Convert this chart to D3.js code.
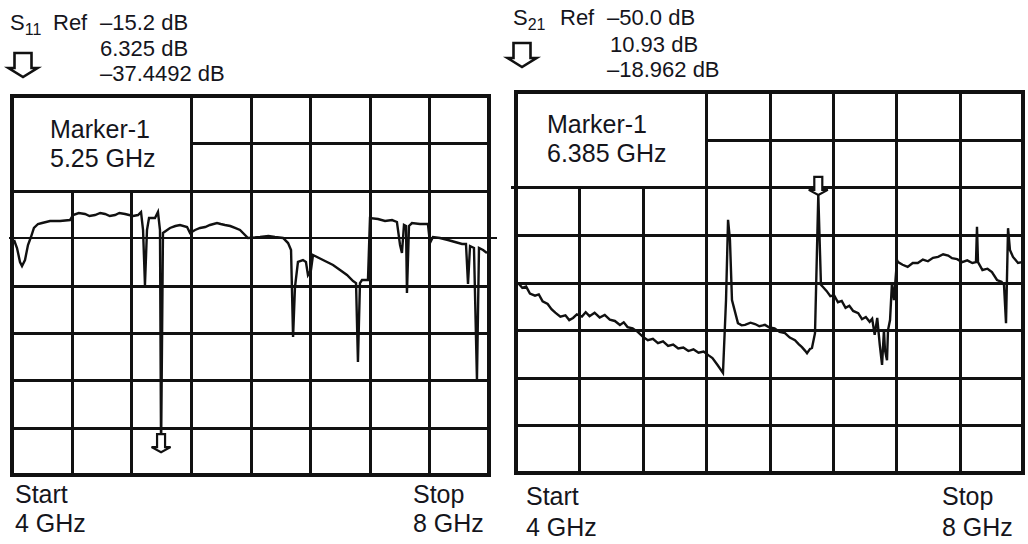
<!DOCTYPE html>
<html>
<head>
<meta charset="utf-8">
<script src="https://cdn.jsdelivr.net/npm/d3@7"></script>
<style>
  html, body { margin: 0; background: #fff; }
  svg { display: block; }
  text { font-family: "Liberation Sans", Arial, Helvetica, sans-serif; fill: #15151c; }
</style>
</head>
<body>
<svg id="chart" width="1028" height="544"></svg>
<script>
// ---- sweep settings -------------------------------------------------------
const startGHz = 4;
const stopGHz = 8;
const divisions = 8;

// ---- S11 readout: reference level, dB per division, marker ---------------
const s11Ref = -15.2;
const s11DbPerDiv = 6.325;
const s11Marker = [5.25, -37.4492];

// S11 trace, [GHz, dB]
const s11Trace = [
  [4.017, -9.13], [4.042, -10.19], [4.067, -12.06], [4.084, -12.60], [4.109, -11.80],
  [4.134, -9.79], [4.159, -8.73], [4.184, -7.52], [4.218, -6.99], [4.252, -6.86],
  [4.319, -6.59], [4.403, -6.59], [4.486, -6.46], [4.512, -5.79], [4.560, -5.52],
  [4.612, -5.65], [4.650, -5.92], [4.696, -5.79], [4.740, -5.52], [4.780, -5.65],
  [4.820, -5.92], [4.864, -5.79], [4.900, -5.52], [4.948, -5.65], [5.015, -5.92],
  [5.057, -5.79], [5.082, -5.39], [5.099, -7.79], [5.115, -15.13], [5.132, -7.79],
  [5.149, -6.19], [5.199, -6.19], [5.224, -5.39], [5.241, -7.79], s11Marker,
  [5.266, -8.19], [5.325, -7.52], [5.370, -7.26], [5.409, -7.12], [5.468, -7.39],
  [5.493, -8.19], [5.535, -7.79], [5.577, -7.52], [5.620, -7.39], [5.660, -7.12],
  [5.719, -6.86], [5.750, -6.99], [5.786, -7.12], [5.830, -7.26], [5.870, -7.52],
  [5.912, -7.79], [5.979, -8.86], [6.080, -8.73], [6.150, -8.60], [6.205, -8.73],
  [6.273, -8.86], [6.315, -9.53], [6.340, -10.46], [6.357, -22.08], [6.373, -15.40],
  [6.398, -12.06], [6.440, -11.80], [6.465, -12.06], [6.482, -13.80], [6.507, -13.13],
  [6.524, -11.13], [6.608, -11.80], [6.692, -12.46], [6.751, -13.13], [6.809, -13.80],
  [6.860, -14.60], [6.885, -14.87], [6.901, -25.41], [6.918, -14.87], [6.935, -14.47],
  [6.985, -14.47], [7.002, -6.19], [7.069, -6.32], [7.128, -6.59], [7.187, -6.46],
  [7.228, -6.72], [7.254, -9.79], [7.270, -10.86], [7.287, -7.12], [7.304, -7.26],
  [7.312, -16.20], [7.329, -7.26], [7.354, -6.86], [7.421, -6.99], [7.488, -6.99],
  [7.505, -9.53], [7.530, -8.73], [7.589, -8.86], [7.656, -9.13], [7.715, -9.39],
  [7.774, -9.66], [7.807, -9.66], [7.824, -15.00], [7.841, -9.93], [7.874, -10.19],
  [7.899, -27.82], [7.916, -10.19], [7.950, -10.46], [7.983, -10.86]
];

// ---- S21 readout ----------------------------------------------------------
const s21Ref = -50.0;
const s21DbPerDiv = 10.93;
const s21Marker = [6.385, -18.962];

// S21 trace, [GHz, dB]
const s21Trace = [
  [4.016, -39.2], [4.05, -40.3], [4.08, -40.0], [4.11, -41.6], [4.15, -42.1],
  [4.18, -41.8], [4.21, -43.4], [4.25, -44.0], [4.28, -45.2], [4.31, -46.0],
  [4.35, -46.9], [4.39, -46.6], [4.42, -47.7], [4.45, -47.2], [4.48, -46.4],
  [4.52, -46.9], [4.55, -45.9], [4.58, -46.8], [4.62, -46.0], [4.66, -47.1],
  [4.70, -46.5], [4.74, -47.6], [4.78, -47.9], [4.82, -48.8], [4.85, -48.2],
  [4.88, -49.3], [4.92, -49.6], [4.96, -50.4], [5.00, -51.5], [5.04, -52.3],
  [5.08, -52.0], [5.12, -53.0], [5.16, -52.6], [5.20, -53.6], [5.24, -53.3],
  [5.28, -54.2], [5.32, -54.0], [5.36, -54.8], [5.40, -54.4], [5.44, -55.2],
  [5.48, -54.9], [5.52, -55.8], [5.55, -56.4], [5.59, -58.0], [5.633, -59.8],
  [5.657, -43.1], [5.673, -24.7], [5.688, -29.3], [5.704, -43.1], [5.751, -48.4],
  [5.78, -48.9], [5.807, -48.8], [5.85, -48.3], [5.886, -48.6], [5.92, -49.1],
  [5.964, -48.8], [6.00, -49.4], [6.04, -49.6], [6.08, -50.4], [6.122, -50.7],
  [6.16, -51.7], [6.201, -52.3], [6.23, -53.2], [6.256, -53.9], [6.28, -54.7],
  [6.296, -55.3], [6.32, -54.3], [6.335, -54.1], [6.359, -50.7], s21Marker,
  [6.406, -39.6], [6.422, -40.1], [6.45, -41.0], [6.48, -42.2], [6.51, -42.0],
  [6.54, -43.6], [6.57, -43.3], [6.60, -44.9], [6.63, -44.4], [6.66, -45.6],
  [6.70, -46.1], [6.73, -47.5], [6.76, -47.0], [6.79, -48.1], [6.81, -47.4],
  [6.83, -51.1], [6.85, -47.2], [6.87, -53.4], [6.888, -58.0], [6.903, -50.0],
  [6.911, -54.6], [6.927, -56.9], [6.935, -50.0], [6.951, -47.7], [6.966, -39.2],
  [6.982, -43.1], [7.006, -33.9], [7.014, -34.4], [7.05, -35.0], [7.09, -35.5],
  [7.13, -34.6], [7.17, -34.6], [7.21, -33.8], [7.25, -34.2], [7.29, -33.4],
  [7.33, -33.2], [7.37, -32.6], [7.41, -32.9], [7.44, -33.5], [7.48, -33.7],
  [7.52, -34.4], [7.56, -34.0], [7.60, -34.6], [7.629, -34.4], [7.637, -26.3],
  [7.645, -34.4], [7.68, -36.2], [7.72, -35.9], [7.755, -36.7], [7.795, -38.5],
  [7.83, -38.9], [7.850, -39.6], [7.866, -48.4], [7.882, -26.6], [7.897, -31.6],
  [7.921, -33.2], [7.961, -34.6], [7.992, -34.4]
];

// ---- layout ---------------------------------------------------------------
const panels = [
  {
    name: "11", ref: s11Ref, perDiv: s11DbPerDiv, refRow: 4, marker: s11Marker, trace: s11Trace,
    box: { x0: 12, x1: 489, y0: 96, y1: 475 },
    head: { sx: 10, refX: 53, valX: 100, indent: 0, lines: [30, 56, 81], arrow: [23, 77] },
    markerText: { x: 50, y: [138, 167] },
    foot: { startX: 15, stopX: 413, y: [503, 532] },
    extendRow: { row: 3, left: 3, right: 8, width: 2 }
  },
  {
    name: "21", ref: s21Ref, perDiv: s21DbPerDiv, refRow: 5, marker: s21Marker, trace: s21Trace,
    box: { x0: 516, x1: 1023, y0: 92, y1: 473 },
    head: { sx: 513, refX: 560, valX: 607, indent: 3, lines: [25, 52, 77], arrow: [522, 67] },
    markerText: { x: 547, y: [133, 162] },
    foot: { startX: 526, stopX: 942, y: [505, 536] },
    extendRow: { row: 2, left: 5, right: 0, width: 3 }
  }
];

const ink = "#111";
const svg = d3.select("#chart");

const dash = s => s.replace("-", "\u2013");
const fmtRef = v => dash(v.toFixed(1)) + " dB";
const fmtVal = v => dash(String(v)) + " dB";
// centre of an odd-width line on the pixel grid
const snap = v => Math.round(v) + 0.5;

// hollow down arrow with its tip at (0,0)
function arrowPath(w, h, stemW, headH) {
  const hw = w / 2, sw = stemW / 2;
  return d3.line()([
    [-sw, -h], [sw, -h], [sw, -headH], [hw, -headH], [0, 0], [-hw, -headH], [-sw, -headH]
  ]) + "Z";
}

panels.forEach((p, pi) => {
  const g = svg.append("g");
  const { x0, x1, y0, y1 } = p.box;

  const topDb = p.ref + p.refRow * p.perDiv;
  const botDb = topDb - divisions * p.perDiv;

  const x = d3.scaleLinear().domain([startGHz, stopGHz]).range([x0, x1]);
  const y = d3.scaleLinear().domain([botDb, topDb]).range([y1, y0]);

  const freqTicks = d3.range(divisions + 1).map(i => startGHz + i * (stopGHz - startGHz) / divisions);
  const dbTicks = d3.range(divisions + 1).map(i => topDb - i * p.perDiv);

  // annotation box occupies the first 3 columns x 2 rows
  const boxCols = 3, boxRows = 2;

  // vertical graticule
  freqTicks.forEach((f, i) => {
    if (i === 0 || i === divisions) return;
    const yStart = i < boxCols ? snap(y(dbTicks[boxRows])) : y0;
    g.append("line")
      .attr("x1", snap(x(f))).attr("x2", snap(x(f)))
      .attr("y1", yStart).attr("y2", y1)
      .attr("stroke", ink).attr("stroke-width", 3);
  });

  // horizontal graticule
  dbTicks.forEach((d, i) => {
    if (i === 0 || i === divisions) return;
    const ext = p.extendRow.row === i ? p.extendRow : null;
    const xStart = i < boxRows ? snap(x(freqTicks[boxCols])) : x0 - (ext ? ext.left : 0);
    const xEnd = x1 + (ext ? ext.right : 0);
    const yy = ext && ext.width % 2 === 0 ? Math.round(y(d)) : snap(y(d));
    g.append("line")
      .attr("x1", xStart).attr("x2", xEnd)
      .attr("y1", yy).attr("y2", yy)
      .attr("stroke", ink).attr("stroke-width", ext ? ext.width : 3);
  });

  // trace
  const clipId = "clip" + pi;
  svg.append("clipPath").attr("id", clipId)
    .append("rect").attr("x", x0).attr("y", y0).attr("width", x1 - x0).attr("height", y1 - y0);

  g.append("path")
    .datum(p.trace)
    .attr("clip-path", `url(#${clipId})`)
    .attr("fill", "none")
    .attr("stroke", ink)
    .attr("stroke-width", 2.4)
    .attr("stroke-linejoin", "miter")
    .attr("d", d3.line().x(d => x(d[0])).y(d => y(d[1])));

  // outer frame
  g.append("rect")
    .attr("x", x0).attr("y", y0).attr("width", x1 - x0).attr("height", y1 - y0)
    .attr("fill", "none").attr("stroke", ink).attr("stroke-width", 4);

  // marker arrow pointing at the marker reading
  g.append("path")
    .attr("transform", `translate(${x(p.marker[0])},${y(p.marker[1])})`)
    .attr("d", arrowPath(19, 18, 8, 5))
    .attr("fill", "#fff").attr("stroke", ink).attr("stroke-width", 2.2);

  // marker annotation
  g.append("text").attr("x", p.markerText.x).attr("y", p.markerText.y[0])
    .attr("font-size", 25).text("Marker-1");
  g.append("text").attr("x", p.markerText.x).attr("y", p.markerText.y[1])
    .attr("font-size", 25).text(p.marker[0] + " GHz");

  // readout header
  const h = p.head;
  const sLabel = g.append("text").attr("x", h.sx).attr("y", h.lines[0]).attr("font-size", 22);
  sLabel.append("tspan").text("S");
  sLabel.append("tspan").attr("font-size", 16).attr("dy", 5).text(p.name);
  g.append("text").attr("x", h.refX).attr("y", h.lines[0]).attr("font-size", 22).text("Ref");
  const readout = [fmtRef(p.ref), fmtVal(p.perDiv), fmtVal(p.marker[1])];
  readout.forEach((t, i) => {
    g.append("text")
      .attr("x", h.valX + (t.startsWith("\u2013") ? 0 : h.indent))
      .attr("y", h.lines[i]).attr("font-size", 22).text(t);
  });
  g.append("path")
    .attr("transform", `translate(${h.arrow[0]},${h.arrow[1]})`)
    .attr("d", arrowPath(29, 24, 17, 9))
    .attr("fill", "#fff").attr("stroke", ink).attr("stroke-width", 2.6);

  // sweep limits
  const f = p.foot;
  g.append("text").attr("x", f.startX).attr("y", f.y[0]).attr("font-size", 25).text("Start");
  g.append("text").attr("x", f.startX).attr("y", f.y[1]).attr("font-size", 25).text(startGHz + " GHz");
  g.append("text").attr("x", f.stopX).attr("y", f.y[0]).attr("font-size", 25).text("Stop");
  g.append("text").attr("x", f.stopX).attr("y", f.y[1]).attr("font-size", 25).text(stopGHz + " GHz");
});
</script>
</body>
</html>
